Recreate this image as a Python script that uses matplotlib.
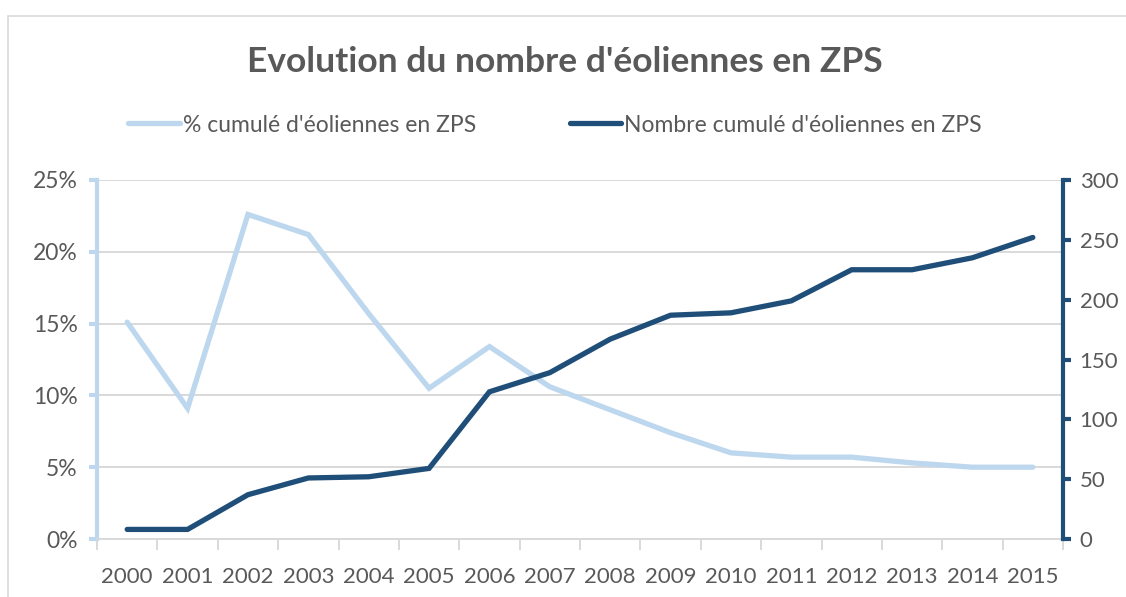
import matplotlib
matplotlib.use("Agg")
import matplotlib.pyplot as plt
from matplotlib.patches import Rectangle
from matplotlib.ticker import FixedLocator, FuncFormatter

years = ["2000", "2001", "2002", "2003", "2004", "2005", "2006", "2007",
         "2008", "2009", "2010", "2011", "2012", "2013", "2014", "2015"]
pct_cumul = [0.151, 0.091, 0.226, 0.212, 0.157, 0.105, 0.134, 0.106,
             0.090, 0.074, 0.060, 0.057, 0.057, 0.053, 0.050, 0.050]
nb_cumul = [8, 8, 37, 51, 52, 59, 123, 139,
            167, 187, 189, 199, 225, 225, 235, 252]

title = "Evolution du nombre d'éoliennes en ZPS"
label_pct = "% cumulé d'éoliennes en ZPS"
label_nb = "Nombre cumulé d'éoliennes en ZPS"

LIGHT = "#bdd7ee"
DARK = "#1f4e79"
GRID = "#d9d9d9"
TXT = "#595959"
FONT = ["Lato", "DejaVu Sans"]
plt.rcParams['font.family'] = FONT

W, H = 1126, 597
fig = plt.figure(figsize=(W / 100, H / 100), dpi=100)
fig.patches.append(Rectangle((8 / W, -0.1), 1.2, 1 - 16 / H + 0.1,
                             transform=fig.transFigure, fill=False,
                             edgecolor=GRID, lw=1.2))

ax = fig.add_axes([97 / W, 1 - 539 / H, (1063 - 97) / W, (539 - 180) / H])
ax2 = ax.twinx()

x = list(range(len(years)))
l1, = ax.plot(x, pct_cumul, color=LIGHT, lw=3.8, solid_capstyle='round',
              solid_joinstyle='miter', label=label_pct)
l2, = ax2.plot(x, nb_cumul, color=DARK, lw=3.8, solid_capstyle='round',
               solid_joinstyle='miter', label=label_nb)

ax.set_xlim(-0.5, len(years) - 0.5)
ax.set_ylim(0, 0.25)
ax2.set_ylim(0, 300)

ax.set_yticks([0, 0.05, 0.10, 0.15, 0.20, 0.25])
ax.yaxis.set_major_formatter(FuncFormatter(lambda v, p: f"{round(v*100)}%"))
ax2.set_yticks([0, 50, 100, 150, 200, 250, 300])

ax.grid(axis='y', color=GRID, lw=1.4)
ax.set_axisbelow(True)

ax.xaxis.set_major_locator(FixedLocator([i - 0.5 for i in range(len(years) + 1)]))
ax.xaxis.set_minor_locator(FixedLocator(x))
ax.set_xticklabels([])
ax.set_xticklabels(years, minor=True)
ax.tick_params(axis='x', which='major', length=8, width=1.4, color=GRID, direction='out')
ax.tick_params(axis='x', which='minor', length=0, pad=20, labelsize=16, labelcolor=TXT)

for s in ['top', 'right']:
    ax.spines[s].set_visible(False)
ax.spines['bottom'].set_color(GRID)
ax.spines['bottom'].set_linewidth(1.4)
ax.spines['left'].set_color(LIGHT)
ax.spines['left'].set_linewidth(3)
ax.tick_params(axis='y', length=6, width=3, color=LIGHT, labelsize=16.5,
               labelcolor=TXT, pad=8)

for s in ['top', 'left', 'bottom']:
    ax2.spines[s].set_visible(False)
ax2.spines['right'].set_color(DARK)
ax2.spines['right'].set_linewidth(3)
ax2.tick_params(axis='y', length=6, width=3, color=DARK, labelsize=16,
                labelcolor=TXT, pad=6)

fig.text(565 / W, 1 - 62 / H, title, ha='center', va='center',
         fontsize=25.5, fontweight='bold', color=TXT)

fig.legend(handles=[l1, l2], loc='center', bbox_to_anchor=(555 / W, 1 - 125 / H),
           ncol=2, frameon=False, fontsize=16.5, labelcolor=TXT,
           handlelength=2.25, handletextpad=0.12, columnspacing=4.1)

fig.savefig("out.png", dpi=100)
